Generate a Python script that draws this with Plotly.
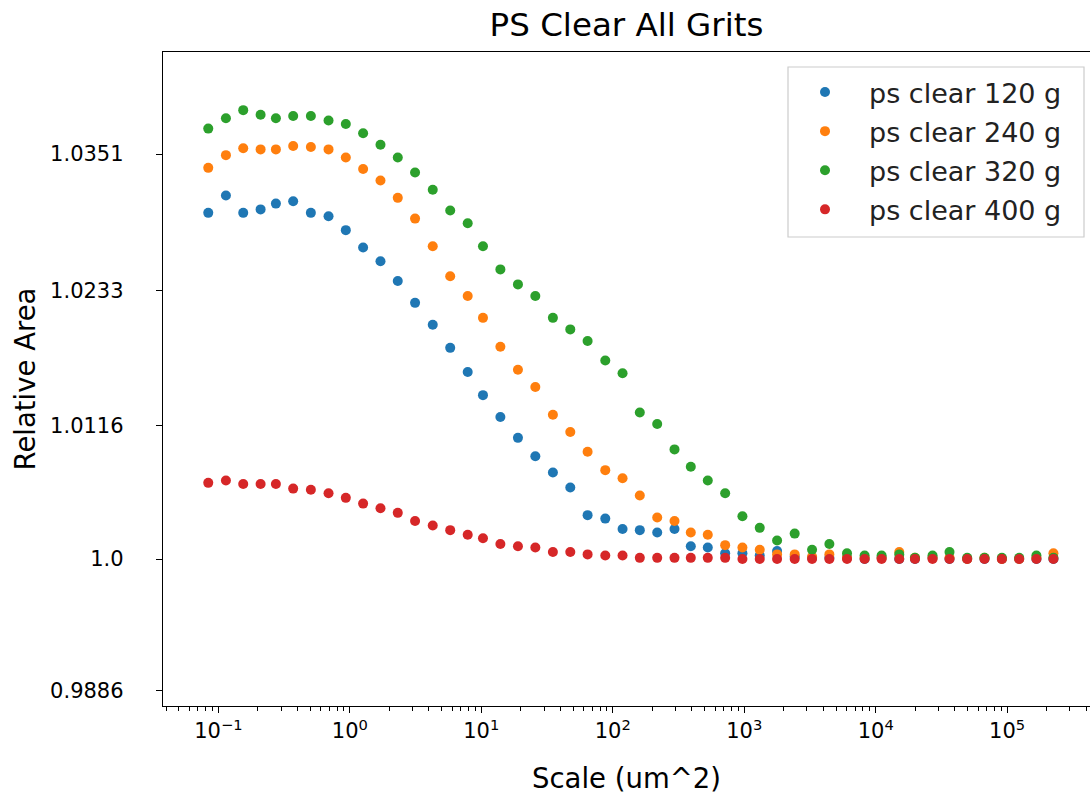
import plotly.graph_objects as go

scale = [0.0838, 0.1142, 0.1546, 0.2096, 0.274, 0.3708, 0.5054, 0.6889, 0.9324, 1.262,
         1.711, 2.316, 3.135, 4.273, 5.802, 7.883, 10.30, 13.97, 19.00, 25.77,
         35.05, 47.53, 64.36, 87.7, 118.7, 160.6, 217.8, 294.9, 392.3, 528.0,
         716.0, 969, 1312, 1778, 2420, 3281, 4441, 6051, 8236, 11090,
         15110, 19890, 27060, 36440, 49660, 67220, 91140, 123400, 166900, 224800]

ps_120 = [1.0300, 1.0315, 1.0300, 1.0303, 1.0308, 1.0310, 1.0300, 1.0297, 1.0285, 1.0270,
          1.0258, 1.0241, 1.0222, 1.0203, 1.0183, 1.0162, 1.0142, 1.0123, 1.0105, 1.0089,
          1.0075, 1.0062, 1.0038, 1.0035, 1.0026, 1.0025, 1.0023, 1.0026, 1.0011, 1.0010,
          1.0005, 1.0005, 1.0003, 1.0007, 1.0002, 1.0001, 1.0001, 1.0001, 1.0000, 1.0001,
          1.0000, 1.0000, 1.0001, 1.0000, 1.0000, 1.0000, 1.0000, 1.0000, 1.0000, 1.0000]

ps_240 = [1.0339, 1.0350, 1.0356, 1.0355, 1.0355, 1.0358, 1.0357, 1.0355, 1.0348, 1.0338,
          1.0328, 1.0313, 1.0295, 1.0271, 1.0245, 1.0228, 1.0209, 1.0184, 1.0164, 1.0149,
          1.0125, 1.0110, 1.0093, 1.0077, 1.0070, 1.0055, 1.0036, 1.0033, 1.0023, 1.0021,
          1.0012, 1.0010, 1.0008, 1.0004, 1.0004, 1.0002, 1.0004, 1.0001, 1.0001, 1.0001,
          1.0006, 1.0001, 1.0001, 1.0001, 1.0000, 1.0001, 1.0000, 1.0000, 1.0001, 1.0005]

ps_320 = [1.0373, 1.0382, 1.0389, 1.0385, 1.0382, 1.0384, 1.0384, 1.0380, 1.0377, 1.0369,
          1.0359, 1.0348, 1.0335, 1.0320, 1.0302, 1.0291, 1.0271, 1.0251, 1.0238, 1.0228,
          1.0209, 1.0199, 1.0189, 1.0172, 1.0161, 1.0127, 1.0117, 1.0095, 1.0080, 1.0068,
          1.0057, 1.0037, 1.0027, 1.0016, 1.0022, 1.0008, 1.0013, 1.0005, 1.0003, 1.0003,
          1.0004, 1.0001, 1.0003, 1.0006, 1.0001, 1.0001, 1.0001, 1.0001, 1.0003, 1.0001]

ps_400 = [1.0066, 1.0068, 1.0065, 1.0065, 1.0065, 1.0061, 1.0060, 1.0057, 1.0053, 1.0048,
          1.0044, 1.0040, 1.0033, 1.0029, 1.0025, 1.0021, 1.0018, 1.0013, 1.0011, 1.0010,
          1.0006, 1.0006, 1.0004, 1.0003, 1.0003, 1.0001, 1.0001, 1.0001, 1.0001, 1.0001,
          1.0001, 1.0000, 1.0000, 1.0000, 1.0000, 1.0000, 1.0000, 1.0000, 1.0000, 1.0000,
          1.0000, 1.0000, 1.0000, 1.0000, 1.0000, 1.0000, 1.0000, 1.0000, 1.0000, 1.0000]

series_names = ["ps clear 120 g", "ps clear 240 g", "ps clear 320 g", "ps clear 400 g"]
series_values = [ps_120, ps_240, ps_320, ps_400]
colors = ["#1f77b4", "#ff7f0e", "#2ca02c", "#d62728"]

y_tick_vals = [0.9886, 1.0, 1.0116, 1.0233, 1.0351]
y_tick_text = ["0.9886", "1.0", "1.0116", "1.0233", "1.0351"]
x_tick_vals = [0.1, 1, 10, 100, 1000, 10000, 100000]
x_tick_text = ["10<sup>\u22121</sup>", "10<sup>0</sup>", "10<sup>1</sup>", "10<sup>2</sup>",
               "10<sup>3</sup>", "10<sup>4</sup>", "10<sup>5</sup>"]
minor_vals = [k * 10 ** n for n in range(-2, 6) for k in range(2, 10)]

FONT = "DejaVu Sans"

fig = go.Figure()
for i, (name, vals, col) in enumerate(zip(series_names, series_values, colors)):
    fig.add_trace(go.Scatter(
        x=scale, y=vals, mode="markers", name=name, legendgroup=f"g{i}",
        marker=dict(color=col, size=10, line=dict(width=0)),
    ))

W, H = 1090, 796
L, R, T, B = 163, 0, 52, 90
PW, PH = W - L - R, H - T - B

# legend frame (matplotlib-style box, drawn as a shape behind the legend)
fig.add_shape(type="rect", xref="paper", yref="paper", layer="above",
              x0=(788 - L) / PW, x1=(1084 - L) / PW,
              y0=(H - B - 237) / PH, y1=(H - B - 67) / PH,
              line=dict(color="#cccccc", width=1.2), fillcolor="rgba(255,255,255,0.8)")

fig.update_layout(
    width=W, height=H,
    margin=dict(l=L, r=R, t=T, b=B, autoexpand=False),
    paper_bgcolor="white", plot_bgcolor="white",
    font=dict(family=FONT, color="black"),
    title=dict(text="PS Clear All Grits", x=(L + (W - R)) / 2 / W, xanchor="center",
               y=1 - 25 / H, yanchor="middle", font=dict(size=32.5, family=FONT, color="black")),
    showlegend=True,
    legend=dict(
        x=(781 - L) / PW, xanchor="left",
        y=(H - B - 68) / PH, yanchor="top",
        bgcolor="rgba(0,0,0,0)", borderwidth=0,
        font=dict(size=27, family=FONT, color="#222222"),
        itemwidth=78, tracegroupgap=1,
    ),
)

fig.update_xaxes(
    type="log", range=[-1.421, 5.63],
    showline=True, linecolor="black", linewidth=1.4, mirror=True,
    showgrid=False, zeroline=False,
    tickmode="array", tickvals=x_tick_vals, ticktext=x_tick_text,
    ticks="outside", ticklen=6, tickwidth=1.3, tickcolor="black",
    tickfont=dict(size=21, family=FONT, color="black"),
    minor=dict(tickmode="array", tickvals=minor_vals, ticks="outside", ticklen=3.5,
               tickwidth=1, tickcolor="black", showgrid=False),
    title=dict(text="Scale (um^2)", font=dict(size=27.5, family=FONT, color="black"), standoff=26),
)

fig.update_yaxes(
    range=[0.98726, 1.04394],
    showline=True, linecolor="black", linewidth=1.4, mirror=False,
    showgrid=False, zeroline=False,
    tickmode="array", tickvals=y_tick_vals, ticktext=y_tick_text,
    ticks="outside", ticklen=6, tickwidth=1.3, tickcolor="black",
    ticklabelstandoff=28,
    tickfont=dict(size=21, family=FONT, color="black"),
    title=dict(text="Relative Area", font=dict(size=27.5, family=FONT, color="black"), standoff=6),
)

fig.write_html("out.html")
